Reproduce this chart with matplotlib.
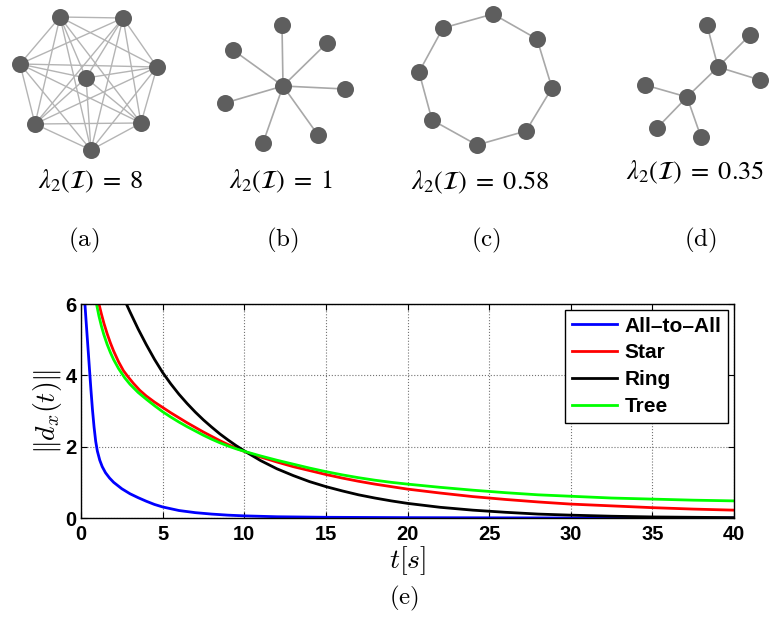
import numpy as np
import matplotlib
matplotlib.use("Agg")
from matplotlib import pyplot as plt

# convergence curves ||d_x(t)|| for the four topologies
t_all = [0.24, 0.3, 0.4, 0.5, 0.6, 0.7, 0.8, 0.9, 1.0, 1.15, 1.3, 1.5, 1.75, 2.0, 2.5, 3.0,
         3.5, 4.0, 4.5, 5.0, 6.0, 7.0, 8.0, 9.0, 10.0, 12.0, 15.0, 20.0, 30.0, 40.0]
d_all = [6.0, 5.6, 4.95, 4.3, 3.65, 3.05, 2.55, 2.15, 1.88, 1.62, 1.44, 1.27, 1.12, 1.0, 0.82, 0.68,
         0.57, 0.47, 0.38, 0.31, 0.21, 0.15, 0.11, 0.08, 0.06, 0.035, 0.02, 0.01, 0.0, 0.0]

t_star = [1.1, 1.25, 1.41, 1.6, 1.8, 2.0, 2.3, 2.6, 2.88, 3.2, 3.6, 4.0, 4.5, 5.0, 5.5, 6.0,
          6.5, 7.0, 7.5, 8.0, 8.5, 9.0, 9.5, 10.15, 11.0, 12.0, 13.0, 14.0, 15.0, 16.0, 17.0,
          18.0, 19.0, 20.0, 22.0, 24.0, 26.0, 28.0, 30.0, 32.5, 35.0, 37.5, 40.0]
d_star = [6.0, 5.72, 5.45, 5.17, 4.91, 4.68, 4.38, 4.13, 3.96, 3.78, 3.58, 3.42, 3.25, 3.1, 2.95, 2.81,
          2.67, 2.54, 2.41, 2.29, 2.17, 2.06, 1.96, 1.84, 1.71, 1.57, 1.44, 1.33, 1.22, 1.12, 1.03,
          0.95, 0.88, 0.81, 0.7, 0.6, 0.52, 0.45, 0.39, 0.34, 0.29, 0.25, 0.22]

t_ring = [2.78, 3.0, 3.5, 4.0, 4.5, 5.0, 5.5, 6.0, 6.5, 7.0, 7.5, 8.0, 8.5, 9.0, 9.5, 10.15,
          11.0, 12.0, 13.0, 14.0, 15.0, 16.0, 17.0, 18.0, 19.0, 20.0, 22.0, 24.0, 26.0, 28.0,
          30.0, 32.5, 35.0, 37.5, 40.0]
d_ring = [6.0, 5.78, 5.3, 4.86, 4.45, 4.08, 3.76, 3.47, 3.21, 2.97, 2.75, 2.55, 2.36, 2.19, 2.03, 1.84,
          1.61, 1.38, 1.19, 1.02, 0.88, 0.76, 0.65, 0.56, 0.48, 0.41, 0.3, 0.22, 0.16, 0.11,
          0.08, 0.05, 0.03, 0.02, 0.01]

t_tree = [0.95, 1.1, 1.25, 1.4, 1.6, 1.8, 2.0, 2.3, 2.68, 3.0, 3.5, 4.0, 4.5, 5.0, 5.5, 6.0,
          6.5, 7.0, 7.5, 8.0, 8.5, 9.0, 9.5, 10.15, 11.0, 12.0, 13.0, 14.0, 15.0, 16.0, 17.0,
          18.0, 19.0, 20.0, 22.0, 24.0, 26.0, 28.0, 30.0, 32.5, 35.0, 37.5, 40.0]
d_tree = [6.0, 5.66, 5.38, 5.14, 4.87, 4.64, 4.44, 4.19, 3.93, 3.75, 3.52, 3.33, 3.15, 2.98, 2.83, 2.69,
          2.56, 2.44, 2.32, 2.21, 2.11, 2.02, 1.94, 1.85, 1.74, 1.62, 1.51, 1.4, 1.3, 1.21, 1.13,
          1.06, 1.0, 0.95, 0.86, 0.78, 0.71, 0.65, 0.61, 0.56, 0.53, 0.5, 0.48]

labels = ["All\u2013to\u2013All", "Star", "Ring", "Tree"]
colors = ["#0000ff", "#ff0000", "#000000", "#00ff00"]

# node layouts of the four communication graphs (pixel positions)
nodes_a = [(60, 17), (123, 18), (20, 64), (157, 67), (86, 78), (35, 124), (141, 123), (91, 150)]
nodes_b = [(283, 86), (282, 25), (233, 50), (327, 43), (345, 89), (225, 103), (263, 143), (318, 135)]
nodes_c = [(493, 14), (537, 39), (552, 88), (526, 131), (477, 145), (432, 120), (419, 72), (443, 28)]
nodes_d = [(718, 67), (707, 25), (750, 35), (760, 80), (687, 97), (645, 85), (657, 128), (701, 137)]

edges_a = [(i, j) for i in range(8) for j in range(i + 1, 8)]
edges_b = [(0, k) for k in range(1, 8)]
edges_c = [(k, (k + 1) % 8) for k in range(8)]
edges_d = [(0, 1), (0, 2), (0, 3), (0, 4), (4, 5), (4, 6), (4, 7)]

eig_text = [r"$\lambda_2(\mathcal{I})\;=\;8$", r"$\lambda_2(\mathcal{I})\;=\;1$",
            r"$\lambda_2(\mathcal{I})\;=\;0.58$", r"$\lambda_2(\mathcal{I})\;=\;0.35$"]
eig_pos = [(91, 181), (281, 181), (480, 182), (695, 172)]
sub_text = ["(a)", "(b)", "(c)", "(d)"]
sub_x = [84, 282, 486, 700]

fig = plt.figure(figsize=(7.75, 6.35), dpi=100)

# top strip: graph drawings, in pixel coordinates
top = fig.add_axes([0, 0, 1, 1])
top.set_xlim(0, 775)
top.set_ylim(635, 0)
top.axis("off")

graphs = [(nodes_a, edges_a, "#b4b4b4", 1.0), (nodes_b, edges_b, "#a8a8a8", 1.2),
          (nodes_c, edges_c, "#a8a8a8", 1.2), (nodes_d, edges_d, "#a8a8a8", 1.2)]
for nodes, edges, ecol, elw in graphs:
    pts = np.array(nodes)
    for i, j in edges:
        top.plot([pts[i, 0], pts[j, 0]], [pts[i, 1], pts[j, 1]], color=ecol, lw=elw, zorder=1)
    top.scatter(pts[:, 0], pts[:, 1], s=150, color="#5e5e5e", zorder=2, linewidths=0)

for txt, (x, y) in zip(eig_text, eig_pos):
    top.text(x, y, txt, ha="center", va="center", fontsize=19, math_fontfamily="stix")
for txt, x in zip(sub_text, sub_x):
    top.text(x, 240, r"$\mathrm{" + txt + "}$", ha="center", va="center", fontsize=18,
             math_fontfamily="cm")
top.text(404, 598, r"$\mathrm{(e)}$", ha="center", va="center", fontsize=18, math_fontfamily="cm")

# bottom: convergence plot
ax = fig.add_axes([81 / 775, 117 / 635, 653 / 775, 214 / 635])
series = [(t_all, d_all), (t_star, d_star), (t_ring, d_ring), (t_tree, d_tree)]
for (t, d), lab, col in zip(series, labels, colors):
    ax.plot(t, d, color=col, lw=2.0, label=lab)

ax.set_xlim(0, 40)
ax.set_ylim(0, 6)
ax.set_xticks(np.arange(0, 41, 5))
ax.set_yticks([0, 2, 4, 6])
ax.grid(True, linestyle=":", color="0.45", lw=0.8)
ax.tick_params(direction="in", top=True, right=True, length=4, width=0.8)
ax.tick_params(axis="x", pad=5)
ax.tick_params(axis="y", pad=3)
for lab in ax.get_xticklabels() + ax.get_yticklabels():
    lab.set_fontfamily("Liberation Sans")
    lab.set_fontweight("bold")
    lab.set_fontsize(14.5)
for sp in ax.spines.values():
    sp.set_linewidth(1.0)

ax.set_xlabel(r"$t[s]$", fontsize=20, math_fontfamily="cm", labelpad=0)
ax.set_ylabel(r"$\|d_x(t)\|$", fontsize=20, math_fontfamily="cm", labelpad=1)

leg = ax.legend(loc="upper right", prop={"family": "Liberation Sans", "weight": "bold", "size": 15},
                frameon=True, fancybox=False, edgecolor="black", framealpha=1,
                handlelength=2.2, labelspacing=0.38, borderaxespad=0.3, borderpad=0.3,
                handletextpad=0.35)
leg.get_frame().set_linewidth(1.0)

fig.savefig("out.png", dpi=100)
